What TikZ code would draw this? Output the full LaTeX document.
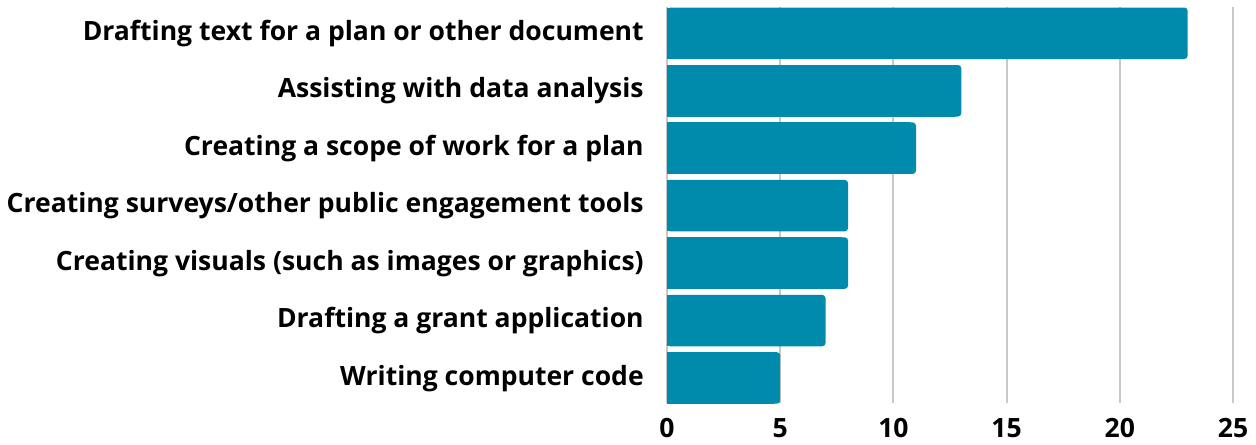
\documentclass[tikz,border=0pt]{standalone}
\usepackage{fontspec}
\setmainfont{Open Sans}
\definecolor{barblue}{HTML}{008BAD}
\definecolor{gridgray}{HTML}{C8C8C8}

\begin{document}
\begin{tikzpicture}[x=0.75pt,y=-0.75pt,
  bar/.style={fill=barblue,rounded corners=2.5},
  grid/.style={draw=gridgray,line width=1.5pt},
  lab/.style={anchor=base east,inner sep=0pt,font=\fontsize{19.9}{22}\selectfont\bfseries},
  tick/.style={anchor=base,inner sep=0pt,font=\fontsize{19.9}{22}\selectfont\bfseries}]
\useasboundingbox (0,0) rectangle (1256,444);
% grid
\draw [grid] (667,7) -- (667,403);
\draw [grid] (780.2,7) -- (780.2,403);
\draw [grid] (893.4,7) -- (893.4,403);
\draw [grid] (1006.6,7) -- (1006.6,403);
\draw [grid] (1119.8,7) -- (1119.8,403);
\draw [grid] (1233,7) -- (1233,403);
% bars
\fill [bar] (667,7.5) rectangle (1187.7,59);
\fill [barblue] (667,7.5) rectangle (1180,59);
\fill [bar] (667,65) rectangle (961.3,116.5);
\fill [barblue] (667,65) rectangle (955,116.5);
\fill [bar] (667,122.4) rectangle (916.0,173.9);
\fill [barblue] (667,122.4) rectangle (910,173.9);
\fill [bar] (667,179.9) rectangle (848.1,231.4);
\fill [barblue] (667,179.9) rectangle (842,231.4);
\fill [bar] (667,237.3) rectangle (848.1,288.8);
\fill [barblue] (667,237.3) rectangle (842,288.8);
\fill [bar] (667,294.8) rectangle (825.5,346.3);
\fill [barblue] (667,294.8) rectangle (819,346.3);
\fill [bar] (667,352.2) rectangle (780.2,403.7);
\fill [barblue] (667,352.2) rectangle (774,403.7);
% labels
\node [lab] (l1) at (644,40) {Drafting text for a plan or other document};
\node [lab] (l2) at (644,97.5) {Assisting with data analysis};
\node [lab] (l3) at (644,155) {Creating a scope of work for a plan};
\node [lab] (l4) at (644,212.5) {Creating surveys/other public engagement tools};
\node [lab] (l5) at (644,270) {Creating visuals (such as images or graphics)};
\node [lab] (l6) at (644,327.5) {Drafting a grant application};
\node [lab] (l7) at (644,385) {Writing computer code};
% ticks
\node [tick] (t0) at (667,437) {0};
\node [tick] (t5) at (780.2,437) {5};
\node [tick] (t10) at (893.4,437) {10};
\node [tick] (t15) at (1006.6,437) {15};
\node [tick] (t20) at (1119.8,437) {20};
\node [tick] (t25) at (1233,437) {25};
\end{tikzpicture}
\end{document}
